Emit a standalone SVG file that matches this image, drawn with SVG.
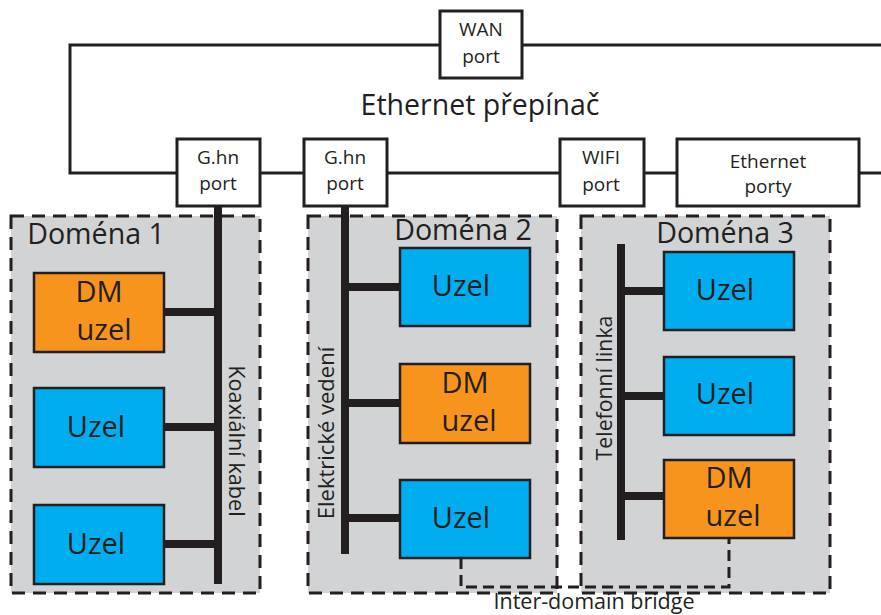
<svg xmlns="http://www.w3.org/2000/svg" width="881" height="615" viewBox="0 0 881 615">
<style>
text{font-family:"Open Sans","Noto Sans",sans-serif;fill:#231f20;text-anchor:middle}
.t{font-size:19px}.b{font-size:29px}.d{font-size:28.6px}
.dom{fill:#d1d3d4;stroke:#231f20;stroke-width:3;stroke-dasharray:13 8}
.port{fill:#fff;stroke:#231f20;stroke-width:3}
.u{fill:#00adef;stroke:#231f20;stroke-width:2.5}
.dm{fill:#f7941d;stroke:#231f20;stroke-width:2.5}
.thin{fill:none;stroke:#231f20;stroke-width:3}
.bus{fill:none;stroke:#231f20;stroke-width:8}
.br{fill:none;stroke:#231f20;stroke-width:3;stroke-dasharray:11 6}
</style>
<rect width="881" height="615" fill="#fff"/>
<g id="domains">
<g id="domena1"><rect class="dom" x="11" y="216" width="249" height="377"/><text class="d" x="96" y="244">Doména 1</text></g>
<g id="domena2"><rect class="dom" x="308" y="216" width="249" height="377"/><text class="d" x="463" y="240">Doména 2</text></g>
<g id="domena3"><rect class="dom" x="581" y="216" width="249" height="377"/><text class="d" x="725" y="243">Doména 3</text></g>
</g>
<g id="connectors">
<path class="thin" d="M440 45H70V173H177M260 173H304M387 173H560M644 173H677M859 173H881M522 45H881"/>
<path class="bus" d="M218 206V584M164 312H218M164 427H218M164 544H218"/>
<path class="bus" d="M345 206V554M345 287H400M345 403H400M345 518H400"/>
<path class="bus" d="M621 244V540M621 291H664M621 396H664M621 496H664"/>
<path class="br" d="M461 558V587H729V538"/>
</g>
<g id="wan"><rect class="port" x="440" y="11" width="82" height="67"/><text class="t" x="481" y="36">WAN</text><text class="t" x="481" y="63">port</text></g>
<text id="title" x="480" y="115" style="font-size:28.5px">Ethernet přepínač</text>
<g id="ghn1"><rect class="port" x="177" y="139" width="83" height="67"/><text class="t" x="218" y="164">G.hn</text><text class="t" x="218" y="190">port</text></g>
<g id="ghn2"><rect class="port" x="304" y="139" width="83" height="67"/><text class="t" x="345" y="164">G.hn</text><text class="t" x="345" y="190">port</text></g>
<g id="wifi"><rect class="port" x="560" y="139" width="84" height="67"/><text class="t" x="601" y="164">WIFI</text><text class="t" x="601" y="191">port</text></g>
<g id="eth"><rect class="port" x="677" y="139" width="182" height="67"/><text class="t" x="768" y="168">Ethernet</text><text class="t" x="768" y="193">porty</text></g>
<g id="n11"><rect class="dm" x="34" y="273" width="130" height="79"/><text class="b" x="99" y="302">DM</text><text class="b" x="104" y="340">uzel</text></g>
<g id="n12"><rect class="u" x="34" y="388" width="130" height="79"/><text class="b" x="96" y="437">Uzel</text></g>
<g id="n13"><rect class="u" x="34" y="505" width="130" height="79"/><text class="b" x="96" y="554">Uzel</text></g>
<g id="n21"><rect class="u" x="400" y="248" width="130" height="78"/><text class="b" x="461" y="296">Uzel</text></g>
<g id="n22"><rect class="dm" x="400" y="364" width="130" height="79"/><text class="b" x="465" y="393">DM</text><text class="b" x="469" y="431">uzel</text></g>
<g id="n23"><rect class="u" x="400" y="480" width="130" height="78"/><text class="b" x="461" y="528">Uzel</text></g>
<g id="n31"><rect class="u" x="664" y="252" width="130" height="78"/><text class="b" x="725" y="300">Uzel</text></g>
<g id="n32"><rect class="u" x="664" y="357" width="130" height="78"/><text class="b" x="725" y="404">Uzel</text></g>
<g id="n33"><rect class="dm" x="664" y="460" width="130" height="78"/><text class="b" x="729" y="488">DM</text><text class="b" x="733" y="526">uzel</text></g>
<text transform="translate(229 441) rotate(90)" style="font-size:21.7px">Koaxiální kabel</text>
<text transform="translate(334 433) rotate(-90)" style="font-size:22px">Elektrické vedení</text>
<text transform="translate(612 388) rotate(-90)" style="font-size:21.3px">Telefonní linka</text>
<text id="bridge" x="594" y="609" style="font-size:21.5px">Inter-domain bridge</text>
</svg>
